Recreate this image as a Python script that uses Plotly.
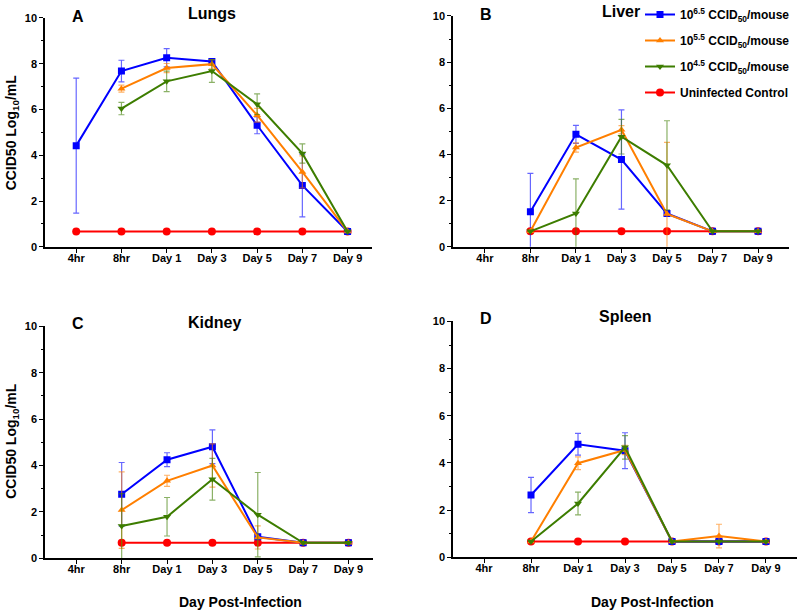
import plotly.graph_objects as go

# categories on the x axis
timepoints = ['4hr', '8hr', 'Day 1', 'Day 3', 'Day 5', 'Day 7', 'Day 9']

series_names = [
    '10<sup>6.5</sup> CCID<sub>50</sub>/mouse',
    '10<sup>5.5</sup> CCID<sub>50</sub>/mouse',
    '10<sup>4.5</sup> CCID<sub>50</sub>/mouse',
    'Uninfected Control',
]

# values per organ (None = not measured), and error (+/-)
lungs_high = [4.42, 7.68, 8.26, 8.10, 5.31, 2.68, 0.67]
lungs_high_err = [2.95, 0.47, 0.40, 0.10, 0.37, 1.37, 0.0]
lungs_mid = [None, 6.91, 7.81, 7.98, 5.75, 3.27, 0.67]
lungs_mid_err = [0, 0.15, 0.20, 0.20, 0.30, 0.70, 0.0]
lungs_low = [None, 6.04, 7.23, 7.68, 6.23, 4.08, 0.67]
lungs_low_err = [0, 0.27, 0.45, 0.50, 0.45, 0.42, 0.0]
lungs_ctrl = [0.67, 0.67, 0.67, 0.67, 0.67, 0.67, 0.67]

liver_high = [None, 1.52, 4.87, 3.78, 1.44, 0.67, 0.67]
liver_high_err = [0, 1.66, 0.39, 2.15, 0.10, 0.0, 0.0]
liver_mid = [None, 0.67, 4.30, 5.07, 1.42, 0.67, 0.67]
liver_mid_err = [0, 0.0, 0.20, 0.18, 3.10, 0.0, 0.0]
liver_low = [None, 0.67, 1.44, 4.77, 3.53, 0.67, 0.67]
liver_low_err = [0, 0.0, 1.50, 0.75, 1.93, 0.0, 0.0]
liver_ctrl = [None, 0.67, 0.67, 0.67, 0.67, 0.67, 0.67]

kidney_high = [None, 2.76, 4.25, 4.81, 0.93, 0.67, 0.67]
kidney_high_err = [0, 1.37, 0.30, 0.73, 0.10, 0.0, 0.0]
kidney_mid = [None, 2.08, 3.34, 4.00, 0.90, 0.67, 0.67]
kidney_mid_err = [0, 1.65, 0.24, 0.93, 0.50, 0.0, 0.0]
kidney_low = [None, 1.39, 1.79, 3.41, 1.88, 0.67, 0.67]
kidney_low_err = [0, 1.40, 0.83, 0.90, 1.82, 0.0, 0.0]
kidney_ctrl = [None, 0.67, 0.67, 0.67, 0.67, 0.67, 0.67]

spleen_high = [None, 2.64, 4.79, 4.52, 0.67, 0.67, 0.67]
spleen_high_err = [0, 0.75, 0.46, 0.76, 0.0, 0.0, 0.0]
spleen_mid = [None, 0.67, 3.99, 4.55, 0.67, 0.90, 0.67]
spleen_mid_err = [0, 0.0, 0.27, 0.20, 0.0, 0.50, 0.0]
spleen_low = [None, 0.67, 2.28, 4.66, 0.67, 0.67, 0.67]
spleen_low_err = [0, 0.0, 0.48, 0.50, 0.0, 0.0, 0.0]
spleen_ctrl = [None, 0.67, 0.67, 0.67, 0.67, 0.67, 0.67]

panels = [
    ('Lungs', 'A', [lungs_high, lungs_mid, lungs_low, lungs_ctrl],
     [lungs_high_err, lungs_mid_err, lungs_low_err, None]),
    ('Liver', 'B', [liver_high, liver_mid, liver_low, liver_ctrl],
     [liver_high_err, liver_mid_err, liver_low_err, None]),
    ('Kidney', 'C', [kidney_high, kidney_mid, kidney_low, kidney_ctrl],
     [kidney_high_err, kidney_mid_err, kidney_low_err, None]),
    ('Spleen', 'D', [spleen_high, spleen_mid, spleen_low, spleen_ctrl],
     [spleen_high_err, spleen_mid_err, spleen_low_err, None]),
]

########################
# SET PLOT AESTHETICS ##
########################
W, H = 800, 612
FONT = 'Liberation Sans, Arial, sans-serif'

colors = ['#0000ff', '#ff7f00', '#3d7d00', '#ff0000']
err_colors = ['rgba(0,0,255,0.6)', 'rgba(255,127,0,0.6)',
              'rgba(61,125,0,0.6)', 'rgba(255,0,0,0.6)']
symbols = ['square', 'triangle-up', 'triangle-down', 'circle']

# pixel boxes for each panel: (left, right, top(y=10), bottom(y=0))
boxes = [(45, 372, 15, 245), (453, 789, 13, 245),
         (45, 373, 325, 558), (453, 797, 320, 557)]
xranges = [[-0.69, 6.54], [-0.70, 6.68], [-0.69, 6.54], [-0.66, 6.66]]

fig = go.Figure()

for i, (title, letter, vals, errs) in enumerate(panels):
    xa = 'x' if i == 0 else f'x{i+1}'
    ya = 'y' if i == 0 else f'y{i+1}'
    # draw the control first so it sits underneath
    for s in [3, 0, 1, 2]:
        err = errs[s]
        fig.add_trace(go.Scatter(
            x=timepoints, y=vals[s],
            name=series_names[s],
            mode='lines+markers',
            line=dict(color=colors[s], width=2),
            marker=dict(symbol=symbols[s], size=7 if s != 3 else 8, color=colors[s]),
            error_y=dict(type='data', array=err, visible=err is not None,
                         color=err_colors[s], thickness=1.2, width=3),
            showlegend=(i == 0),
            legendrank=s + 1,
            legendgroup=f'g{s}',
            xaxis=xa, yaxis=ya,
        ))

    left, right, top, bottom = boxes[i]
    dom_x = [left / W, right / W]
    dom_y = [1 - bottom / H, 1 - top / H]
    key = '' if i == 0 else str(i + 1)
    fig.layout[f'xaxis{key}'] = dict(
        domain=dom_x, type='category', categoryorder='array',
        categoryarray=timepoints, range=xranges[i],
        showline=True, linecolor='black', linewidth=1.5,
        ticks='outside', ticklen=4, tickwidth=1.2, tickcolor='black',
        ticklabelstandoff=-4,
        tickfont=dict(family=FONT, size=11, color='black', weight='bold'),
        showgrid=False, zeroline=False, anchor=ya, fixedrange=True,
        automargin=False,
    )
    fig.layout[f'yaxis{key}'] = dict(
        domain=dom_y, range=[0, 10], tickvals=[0, 2, 4, 6, 8, 10],
        showline=True, linecolor='black', linewidth=1.5,
        ticks='outside', ticklen=4, tickwidth=1.2, tickcolor='black',
        minor=dict(tickvals=[1, 3, 5, 7, 9], ticks='outside', ticklen=2,
                   tickcolor='black', tickwidth=1),
        tickfont=dict(family=FONT, size=11, color='black', weight='bold'),
        showgrid=False, zeroline=False, anchor=xa, fixedrange=True,
        automargin=False,
    )

##################
# ANNOTATIONS   ##
##################
title_pos = [(212, 11), (621, 9), (214, 321), (625, 315)]
letter_pos = [(78, 14), (486, 12), (78, 322), (486, 317)]
for i, (title, letter, _, _) in enumerate(panels):
    tx, ty = title_pos[i]
    fig.add_annotation(x=tx / W, y=1 - ty / H, xref='paper', yref='paper',
                       xanchor='center', yanchor='middle',
                       text=f'<b>{title}</b>', showarrow=False,
                       font=dict(family=FONT, size=16, color='black'))
    lx, ly = letter_pos[i]
    fig.add_annotation(x=lx / W, y=1 - ly / H, xref='paper', yref='paper',
                       xanchor='center', yanchor='middle',
                       text=f'<b>{letter}</b>', showarrow=False,
                       font=dict(family=FONT, size=16, color='black'))

for yy in [130, 440]:
    fig.add_annotation(x=12 / W, y=1 - yy / H, xref='paper', yref='paper',
                       xanchor='center', yanchor='middle',
                       text='<b>CCID50 Log<sub>10</sub>/mL</b>', textangle=-90,
                       showarrow=False,
                       font=dict(family=FONT, size=14, color='black'))

for xx in [240, 652]:
    fig.add_annotation(x=xx / W, y=1 - 602 / H, xref='paper', yref='paper',
                       xanchor='center', yanchor='middle',
                       text='<b>Day Post-Infection</b>', showarrow=False,
                       font=dict(family=FONT, size=14, color='black'))

##################
# UPDATE LAYOUT ##
##################
fig.update_layout(
    width=W, height=H,
    margin=dict(l=0, r=0, t=0, b=0),
    paper_bgcolor='white', plot_bgcolor='white',
    legend=dict(x=0.80, y=1.005, xanchor='left', yanchor='top',
                bgcolor='rgba(0,0,0,0)', tracegroupgap=7,
                font=dict(family=FONT, size=12, color='black', weight='bold'),
                itemwidth=30),
)

# remove the default page margin so the figure sits at the window corner
fig.write_html('out.html', config={'displayModeBar': False},
               post_script="document.body.style.margin='0';")
